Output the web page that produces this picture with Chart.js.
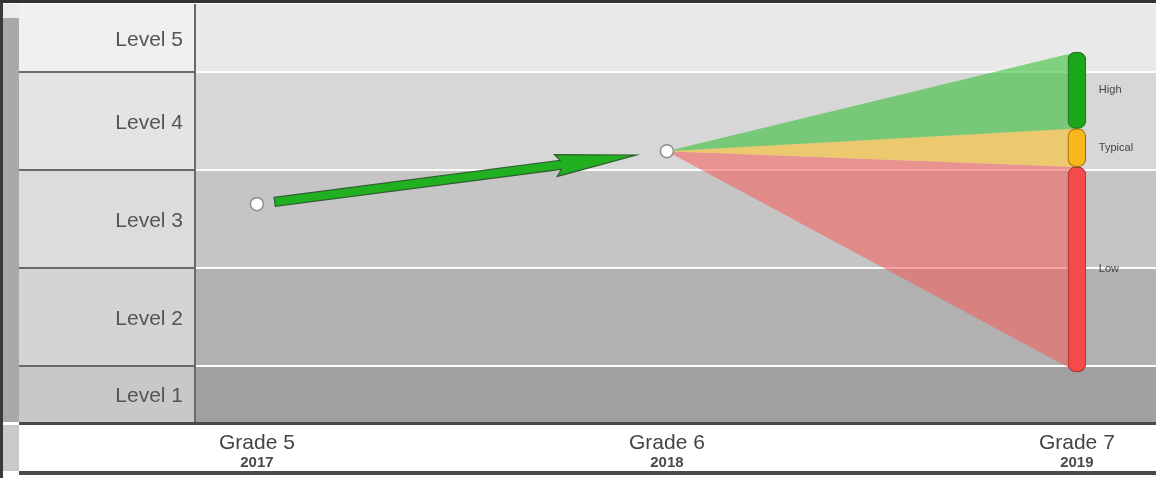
<!DOCTYPE html>
<html>
<head>
<meta charset="utf-8">
<script src="https://cdn.jsdelivr.net/npm/chart.js@4.4.0/dist/chart.umd.min.js"></script>
<style>
  html, body { margin: 0; padding: 0; background: #fff; }
  #wrap { width: 1156px; height: 478px; }
</style>
</head>
<body>
<div id="wrap"><canvas id="myChart"></canvas></div>
<script>
// data
const grades = ['Grade 5', 'Grade 6', 'Grade 7'];
const years = ['2017', '2018', '2019'];
const levels = ['Level 1', 'Level 2', 'Level 3', 'Level 4', 'Level 5'];
const levelEdges = [0.43, 1, 2, 3, 4, 4.69];
const scores = [2.65, 3.19];
const rangeNames = ['High', 'Typical', 'Low'];
const rangeEdges = [4.2, 3.42, 3.03, 0.94]; // grade 7 projection, top to bottom

// colours
const plotBands = ['#a0a0a0', '#b1b1b1', '#c5c5c5', '#d7d7d7', '#e9e9e9'];
const labelBands = ['#c8c8c8', '#d4d4d4', '#dcdcdc', '#e4e4e4', '#f0f0f0'];
const coneColors = ['rgba(40,190,40,0.55)', 'rgba(250,190,40,0.6)', 'rgba(245,90,90,0.55)'];
const barColors = ['#1aa81a', '#f8b81c', '#f44a4a'];
const barBorders = ['#2b6f2b', '#9a7414', '#a83a3a'];
const FONT = "'Liberation Sans', Arial, sans-serif";

// stop tick labels from adding padding round the plot
const noPad = s => { s.paddingTop = 0; s.paddingBottom = 0; s.paddingLeft = 0; s.paddingRight = 0; };

const backdrop = {
    id: 'backdrop',
    beforeDraw(chart) {
        const ctx = chart.ctx;
        const a = chart.chartArea;
        const y = chart.scales.y;
        ctx.save();
        ctx.fillStyle = '#fff';
        ctx.fillRect(0, 0, chart.width, chart.height);
        // level bands, label panel and plot
        for (let i = 0; i < levels.length; i++) {
            const top = y.getPixelForValue(levelEdges[i + 1]);
            const bot = y.getPixelForValue(levelEdges[i]);
            ctx.fillStyle = labelBands[i];
            ctx.fillRect(19, top, a.left - 19, bot - top);
            ctx.fillStyle = plotBands[i];
            ctx.fillRect(a.left, top, a.right - a.left, bot - top);
        }
        // separators
        for (let i = 1; i < levels.length; i++) {
            const p = Math.round(y.getPixelForValue(levelEdges[i]));
            ctx.fillStyle = '#fdfdfd';
            ctx.fillRect(a.left, p - 1, a.right - a.left, 2);
            ctx.fillStyle = '#6a6a6a';
            ctx.fillRect(19, p - 1, a.left - 19, 2);
        }
        ctx.fillStyle = '#6a6a6a';
        ctx.fillRect(a.left - 1, a.top, 2, a.bottom - a.top);
        // left strip
        ctx.fillStyle = '#ececec';
        ctx.fillRect(3, a.top, 16, 14);
        ctx.fillStyle = '#a9a9a9';
        ctx.fillRect(3, a.top + 14, 16, a.bottom - a.top - 14);
        ctx.fillStyle = '#c9c9c9';
        ctx.fillRect(3, a.bottom + 3, 16, 46);
        ctx.fillStyle = '#3a3a3a';
        ctx.fillRect(0, 0, 3, chart.height);
        // top, axis and bottom rules
        ctx.fillStyle = '#333';
        ctx.fillRect(0, 0, chart.width, 3);
        ctx.fillStyle = '#4a4a4a';
        ctx.fillRect(19, a.bottom, chart.width - 19, 3);
        ctx.fillRect(19, 471, chart.width - 19, 4);
        ctx.restore();
    },
    afterDatasetsDraw(chart) {
        const ctx = chart.ctx;
        const x = chart.scales.x;
        const y = chart.scales.y;
        ctx.save();
        // growth arrow from grade 5 score to grade 6 score
        const x0 = x.getPixelForValue(0), y0 = y.getPixelForValue(scores[0]);
        const x1 = x.getPixelForValue(1), y1 = y.getPixelForValue(scores[1]);
        const len = Math.hypot(x1 - x0, y1 - y0);
        const ux = (x1 - x0) / len, uy = (y1 - y0) / len;
        const nx = -uy, ny = ux;
        const s = 18, e = len - 31, head = 76, hw = 4.5, bw = 11;
        const pt = (d, w) => [x0 + ux * d + nx * w, y0 + uy * d + ny * w];
        const poly = [pt(s, -hw), pt(e - head, -hw), pt(e - head - 5, -bw), pt(e, 0),
                      pt(e - head - 5, bw), pt(e - head, hw), pt(s, hw)];
        ctx.beginPath();
        poly.forEach((p, i) => i ? ctx.lineTo(p[0], p[1]) : ctx.moveTo(p[0], p[1]));
        ctx.closePath();
        ctx.fillStyle = '#20b020';
        ctx.fill();
        ctx.strokeStyle = '#2f5f2f';
        ctx.lineWidth = 1.2;
        ctx.stroke();
        // range names beside the grade 7 bar
        ctx.fillStyle = '#444';
        ctx.font = '11px ' + FONT;
        ctx.textBaseline = 'middle';
        const bx = x.getPixelForValue(2) + 22;
        rangeNames.forEach((n, i) => {
            const mid = (y.getPixelForValue(rangeEdges[i]) + y.getPixelForValue(rangeEdges[i + 1])) / 2;
            ctx.fillText(n, bx, mid);
        });
        ctx.restore();
    }
};

const coneSets = rangeEdges.map((v, i) => ({
    type: 'line',
    data: [{ x: 1, y: scores[1] }, { x: 2, y: v }],
    fill: i < coneColors.length ? '+1' : false,
    backgroundColor: coneColors[i] || 'transparent',
    borderWidth: 0,
    pointRadius: 0,
    order: 3
}));

const ctx = document.getElementById('myChart').getContext('2d');
const myChart = new Chart(ctx, {
    type: 'scatter',
    data: {
        datasets: [
            {
                type: 'scatter',
                data: scores.map((v, i) => ({ x: i, y: v })),
                pointRadius: 6.5,
                pointBackgroundColor: '#fff',
                pointBorderColor: '#8c8c8c',
                pointBorderWidth: 1.5,
                order: 0
            },
            {
                type: 'bar',
                data: rangeNames.map((n, i) => ({ x: 2, y: [rangeEdges[i + 1], rangeEdges[i]] })),
                backgroundColor: barColors,
                borderColor: barBorders,
                borderWidth: 1.2,
                borderRadius: 8,
                borderSkipped: false,
                barThickness: 18,
                order: 1
            },
            ...coneSets
        ]
    },
    options: {
        responsive: true,
        maintainAspectRatio: false,
        animation: false,
        events: [],
        layout: { autoPadding: false, padding: { left: 0, right: 0, top: 4, bottom: 6 } },
        plugins: { legend: { display: false }, tooltip: { enabled: false } },
        scales: {
            x: {
                type: 'linear',
                position: 'bottom',
                min: -0.151,
                max: 2.193,
                offset: false,
                afterBuildTicks: s => { s.ticks = grades.map((g, i) => ({ value: i })); },
                afterFit: s => { s.height = 32; noPad(s); },
                grid: { display: false, drawTicks: false, offset: false },
                border: { display: false },
                ticks: {
                    autoSkip: false, maxRotation: 0, padding: 9,
                    color: '#444',
                    font: { family: FONT, size: 21 },
                    callback: (v, i) => grades[i]
                }
            },
            x2: {
                type: 'linear',
                position: 'bottom',
                min: -0.151,
                max: 2.193,
                offset: false,
                afterBuildTicks: s => { s.ticks = years.map((g, i) => ({ value: i })); },
                afterFit: noPad,
                grid: { display: false, drawTicks: false },
                border: { display: false },
                ticks: {
                    autoSkip: false, maxRotation: 0, padding: 0,
                    color: '#4a4a4a',
                    font: { family: FONT, size: 15, weight: 'bold' },
                    callback: (v, i) => years[i]
                }
            },
            y: {
                type: 'linear',
                min: levelEdges[0],
                max: levelEdges[levelEdges.length - 1],
                afterBuildTicks: s => {
                    s.ticks = levels.map((l, i) => ({ value: (levelEdges[i] + levelEdges[i + 1]) / 2 }));
                },
                afterFit: s => { s.width = 195; noPad(s); },
                grid: { display: false, drawTicks: false },
                border: { display: false },
                ticks: {
                    autoSkip: false, padding: 12, labelOffset: 2.5,
                    color: '#555',
                    font: { family: FONT, size: 21 },
                    callback: (v, i) => levels[i]
                }
            }
        }
    },
    plugins: [backdrop]
});
</script>
</body>
</html>
